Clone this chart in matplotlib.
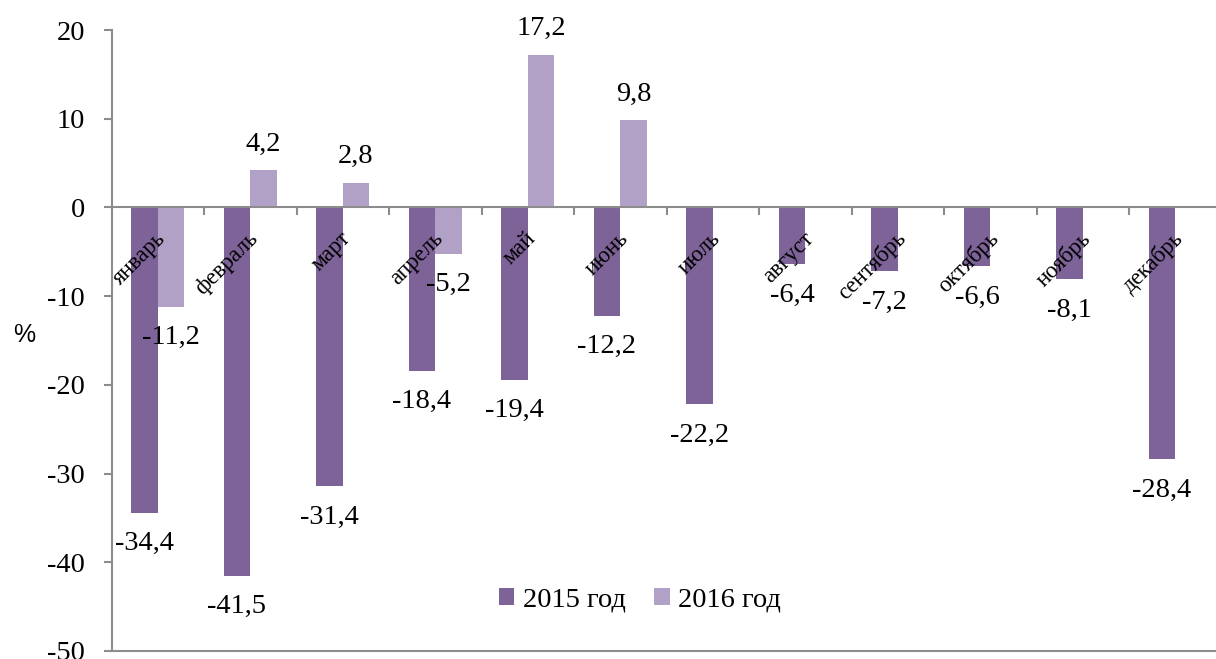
import numpy as np
import matplotlib
matplotlib.use("Agg")
import matplotlib.pyplot as plt

plt.rcParams['axes.unicode_minus'] = False
plt.rcParams['font.family'] = ['Liberation Serif', 'DejaVu Serif']

months = ["январь", "февраль", "март", "апрель", "май", "июнь", "июль",
          "август", "сентябрь", "октябрь", "ноябрь", "декабрь"]
values_2015 = [-34.4, -41.5, -31.4, -18.4, -19.4, -12.2, -22.2, -6.4, -7.2, -6.6, -8.1, -28.4]
values_2016 = [-11.2, 4.2, 2.8, -5.2, 17.2, 9.8]
series_names = ["2015 год", "2016 год"]
yticks = [-50, -40, -30, -20, -10, 0, 10, 20]

c2015 = '#7E6399'
c2016 = '#B1A1C7'
axis_gray = '#8C8C8C'

W, H = 1216, 659
fig = plt.figure(figsize=(W / 100, H / 100), dpi=100)
left, right, top, bottom = 111.5, 1221.5, 30, 651
ax = fig.add_axes([left / W, 1 - bottom / H, (right - left) / W, (bottom - top) / H])

x = np.arange(len(months))
bw = 0.287
ax.bar(x - bw / 2, values_2015, bw, color=c2015, label=series_names[0], zorder=2)
x16 = np.arange(len(values_2016))
ax.bar(x16 + bw / 2, values_2016, bw, color=c2016, label=series_names[1], zorder=2)

ax.set_xlim(-0.5, len(months) - 0.5)
ax.set_ylim(-50, 20)
ax.set_yticks(yticks)
ax.set_yticklabels([str(t) for t in yticks], fontsize=20.5)

for s in ['top', 'right']:
    ax.spines[s].set_visible(False)
ax.spines['left'].set_color(axis_gray)
ax.spines['left'].set_linewidth(1.5)
ax.spines['bottom'].set_position(('data', 0))
ax.spines['bottom'].set_color(axis_gray)
ax.spines['bottom'].set_linewidth(1.5)
ax.spines['bottom'].set_zorder(3)
ax.set_xticks(np.arange(-0.5, len(months), 1))
ax.set_xticklabels([])
ax.tick_params(axis='x', length=6, width=1.5, color=axis_gray, direction='out')
ax.tick_params(axis='y', length=6, width=1.5, color=axis_gray, direction='out', pad=13)

# bottom frame line at -50
ax.axhline(-50, color=axis_gray, linewidth=1.5, clip_on=False, zorder=1)

# month labels
for i, m in enumerate(months):
    ax.annotate(m, xy=(i, 0), xytext=(5, -28), textcoords='offset pixels',
                rotation=45, rotation_mode='anchor', ha='right', va='center',
                fontsize=16.5, zorder=4)

def fmt(v):
    return f"{v:.1f}".replace('.', ',')

for xs, vals in [(x - bw / 2, values_2015), (x16 + bw / 2, values_2016)]:
    for xi, v in zip(xs, vals):
        dy = 26 if v >= 0 else -31
        ax.annotate(fmt(v), xy=(xi, v), xytext=(0, dy), textcoords='offset pixels',
                    ha='center', va='center', fontsize=20.5, zorder=4)

fig.text(24 / W, 1 - 335 / H, "%", fontsize=18, family='Liberation Sans',
         ha='center', va='center')

ax.legend(loc='center', bbox_to_anchor=(0.476, 0.082), ncol=2, frameon=False,
          fontsize=20.5, handlelength=0.55, handleheight=0.55, handletextpad=0.3,
          columnspacing=1.0)

fig.savefig("out.png", dpi=100)
